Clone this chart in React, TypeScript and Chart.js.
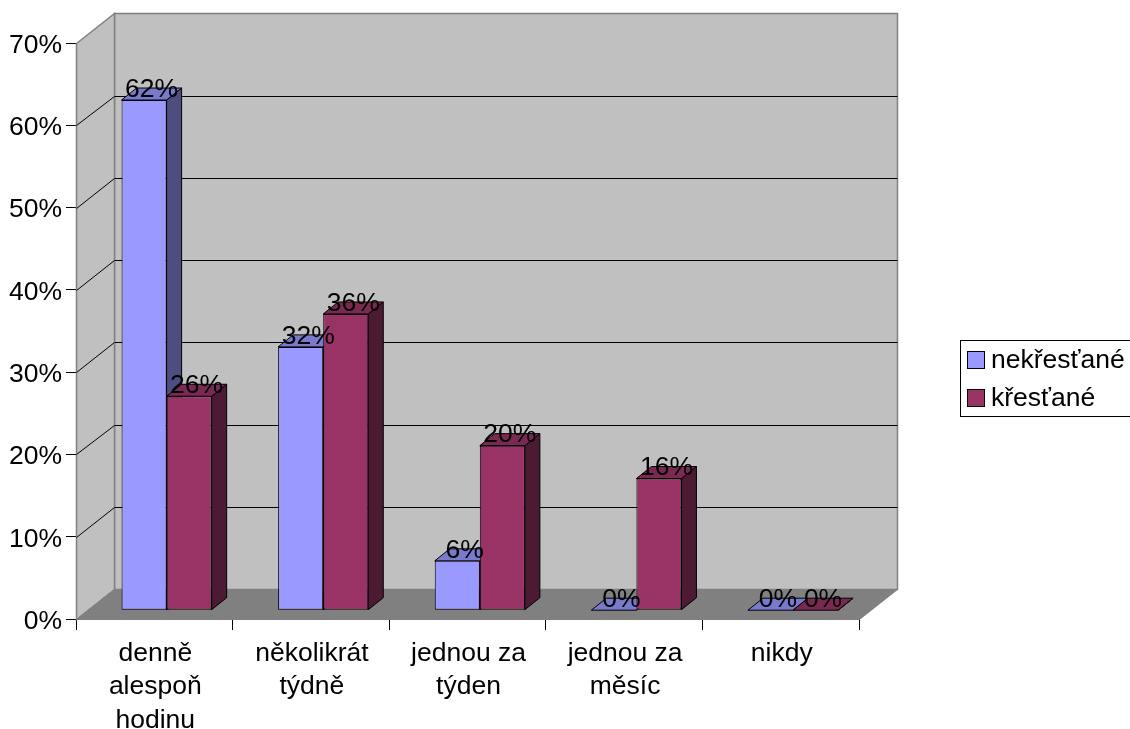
import React, { useEffect, useRef } from "react";
import { Chart, registerables } from "chart.js";

Chart.register(...registerables);

const categories = [
  ["denně", "alespoň", "hodinu"],
  ["několikrát", "týdně"],
  ["jednou za", "týden"],
  ["jednou za", "měsíc"],
  ["nikdy"],
];
const nekrestane = [62, 32, 6, 0, 0];
const krestane = [26, 36, 20, 16, 0];
const seriesNames = ["nekřesťané", "křesťané"];
const frontColors = ["#9999FF", "#993366"];
const sideColors = ["#4D4D80", "#4D1A33"];
const topColors = ["#7A7ACC", "#7A2952"];
const yTicks = [0, 10, 20, 30, 40, 50, 60, 70];

const FONT = '"Liberation Sans", Arial, sans-serif';
const FS = 26.5;
const WALL_DX = 38;
const WALL_DY = -30;
const BAR_DX = 12.3;
const BAR_DY = -8.8;
const DEPTH_X = 15;
const DEPTH_Y = -12;

function poly(ctx: CanvasRenderingContext2D, pts: number[][], fill: string | null, stroke: string | null, lw = 1) {
  ctx.beginPath();
  pts.forEach((p, i) => (i ? ctx.lineTo(p[0], p[1]) : ctx.moveTo(p[0], p[1])));
  ctx.closePath();
  if (fill) {
    ctx.fillStyle = fill;
    ctx.fill();
  }
  if (stroke) {
    ctx.strokeStyle = stroke;
    ctx.lineWidth = lw;
    ctx.stroke();
  }
}

const scene3d = {
  id: "scene3d",
  beforeDatasetsDraw(chart: any) {
    const { ctx, chartArea: a, scales } = chart;
    const L = a.left + 0.5;
    const R = a.right + 0.5;
    const T = a.top + 0.5;
    const B = a.bottom + 0.5;
    ctx.save();
    poly(ctx, [[L + WALL_DX, T + WALL_DY], [R + WALL_DX, T + WALL_DY], [R + WALL_DX, B + WALL_DY], [L + WALL_DX, B + WALL_DY]], "#C0C0C0", "#808080", 1.5);
    poly(ctx, [[L, T], [L + WALL_DX, T + WALL_DY], [L + WALL_DX, B + WALL_DY], [L, B]], "#C0C0C0", "#808080", 1.5);
    poly(ctx, [[L, B], [L + WALL_DX, B + WALL_DY], [R + WALL_DX, B + WALL_DY], [R, B]], "#808080", "#808080", 1);
    ctx.strokeStyle = "#000";
    ctx.lineWidth = 1;
    yTicks.forEach((v) => {
      if (v === 0 || v === 70) return;
      const p = scales.y.getPixelForValue(v);
      const y = Math.round(p) + 0.5;
      const yBack = Math.round(p + 0.3 + WALL_DY) + 0.5;
      ctx.beginPath();
      ctx.moveTo(L, y);
      ctx.lineTo(L + WALL_DX, yBack);
      ctx.lineTo(R + WALL_DX, yBack);
      ctx.stroke();
    });
    ctx.translate(BAR_DX, BAR_DY);
    for (let c = 0; c < categories.length; c++) {
      for (let s = 0; s < 2; s++) {
        const el = chart.getDatasetMeta(s).data[c];
        const x0 = el.x - el.width / 2;
        const x1 = el.x + el.width / 2;
        const yT = el.y;
        const yB = el.base;
        poly(ctx, [[x1, yT], [x1 + DEPTH_X, yT + DEPTH_Y], [x1 + DEPTH_X, yB + DEPTH_Y], [x1, yB]], sideColors[s], "#000");
        poly(ctx, [[x0, yT], [x0 + DEPTH_X, yT + DEPTH_Y], [x1 + DEPTH_X, yT + DEPTH_Y], [x1, yT]], topColors[s], "#000");
      }
    }
    ctx.restore();
    ctx.save();
    ctx.translate(BAR_DX, BAR_DY);
  },
  afterDatasetsDraw(chart: any) {
    const { ctx } = chart;
    ctx.restore();
    ctx.save();
    ctx.fillStyle = "#000";
    ctx.font = `${FS}px ${FONT}`;
    ctx.textAlign = "center";
    ctx.textBaseline = "middle";
    chart.data.datasets.forEach((ds: any, s: number) => {
      chart.getDatasetMeta(s).data.forEach((el: any, c: number) => {
        ctx.fillText(`${ds.data[c]}%`, el.x + BAR_DX + DEPTH_X / 2, el.y + BAR_DY + DEPTH_Y + 1.5);
      });
    });
    ctx.strokeStyle = "#000";
    ctx.lineWidth = 1;
    ctx.fillStyle = "#fff";
    ctx.fillRect(960.5, 340.5, 175, 76);
    ctx.strokeRect(960.5, 340.5, 175, 76);
    ctx.textAlign = "left";
    seriesNames.forEach((n, i) => {
      const y = 351.5 + i * 38;
      ctx.fillStyle = frontColors[i];
      ctx.fillRect(967.5, y, 17, 17);
      ctx.strokeRect(967.5, y, 17, 17);
      ctx.fillStyle = "#000";
      ctx.fillText(n, 991, y + 9.5);
    });
    ctx.restore();
  },
};

export default function App() {
  const ref = useRef<HTMLCanvasElement>(null);
  useEffect(() => {
    const chart = new Chart(ref.current as HTMLCanvasElement, {
      type: "bar",
      plugins: [scene3d],
      data: {
        labels: categories as any,
        datasets: [nekrestane, krestane].map((d, i) => ({
          label: seriesNames[i],
          data: d,
          backgroundColor: frontColors[i],
          borderColor: "#000",
          borderWidth: 1,
          borderSkipped: false,
          categoryPercentage: 0.5755,
          barPercentage: 1,
          clip: false as any,
        })),
      },
      options: {
        responsive: false,
        animation: false,
        devicePixelRatio: 1,
        layout: { padding: { left: 0, right: 271, top: 43, bottom: 0 } },
        plugins: { legend: { display: false }, tooltip: { enabled: false } },
        scales: {
          x: {
            grid: { drawOnChartArea: false, color: "#000", tickLength: 11, offset: true },
            border: { color: "#000" },
            ticks: {
              color: "#000",
              font: { family: FONT, size: FS, lineHeight: 1.26 },
              maxRotation: 0,
              minRotation: 0,
              padding: 7,
              labelOffset: 1,
              autoSkip: false,
            },
            afterFit: (s: any) => {
              s.height = 110;
            },
          },
          y: {
            min: 0,
            max: 70,
            grid: { drawOnChartArea: false, color: "#000", tickLength: 10 },
            border: { color: "#000" },
            ticks: {
              stepSize: 10,
              color: "#000",
              font: { family: FONT, size: FS },
              padding: 4,
              labelOffset: 2.5,
              callback: (v: any) => `${v}%`,
            },
            afterFit: (s: any) => {
              s.width = 76;
            },
          },
        },
      },
    } as any);
    return () => chart.destroy();
  }, []);
  return (
    <canvas
      ref={ref}
      width={1130}
      height={729}
      style={{ position: "absolute", left: 0, top: 0, width: 1130, height: 729 }}
    />
  );
}
